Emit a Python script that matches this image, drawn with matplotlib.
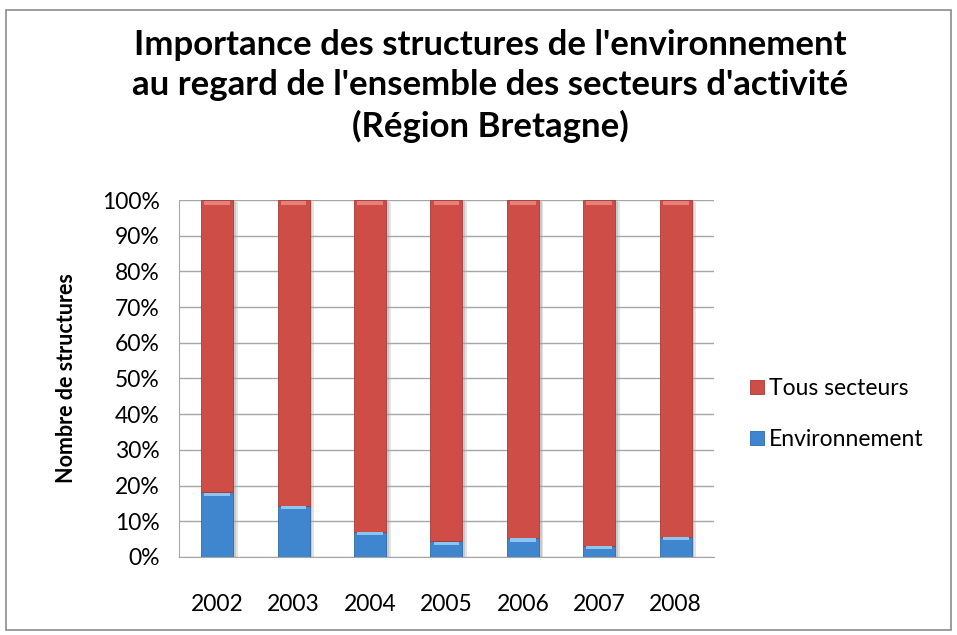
import numpy as np
import matplotlib.pyplot as plt
from matplotlib.patches import Rectangle

annees = ["2002", "2003", "2004", "2005", "2006", "2007", "2008"]
environnement = [18.1, 14.4, 7.1, 4.4, 5.3, 3.1, 5.6]
tous_secteurs = [100 - v for v in environnement]

plt.rcParams['font.family'] = ['Lato', 'DejaVu Sans']

fig = plt.figure(figsize=(9.57, 6.35), dpi=100)
fig.patches.append(Rectangle((0.006, 0.008), 0.988, 0.976, transform=fig.transFigure,
                             fill=False, edgecolor='#8c8c8c', linewidth=1.2))

ax = fig.add_axes([0.187, 0.123, 0.559, 0.562])
x = np.arange(len(annees))
w = 0.42

# ombre portée
ax.bar(x + 0.06, [100] * len(x), width=w, bottom=-0.6, color='#b0b0b0', alpha=0.35, zorder=2)
ax.bar(x + 0.035, [100] * len(x), width=w, bottom=-0.3, color='#9a9a9a', alpha=0.35, zorder=2)

b_env = ax.bar(x, environnement, width=w, color='#3f86cf', edgecolor='#2d6aa8',
               linewidth=0.6, label='Environnement', zorder=3)
b_tous = ax.bar(x, tous_secteurs, width=w, bottom=environnement, color='#cf4d47',
                edgecolor='#a83a35', linewidth=0.6, label='Tous secteurs', zorder=3)

# reflets en haut des segments
for xi, e in zip(x, environnement):
    ax.bar(xi, 0.9, width=w * 0.8, bottom=e - 1.0, color='#8cc4f2', zorder=4, linewidth=0)
    ax.bar(xi, 1.2, width=w * 0.8, bottom=98.6, color='#e8807a', zorder=4, linewidth=0)

ax.set_xlim(-0.5, len(annees) - 0.5)
ax.set_ylim(0, 100)
ax.set_yticks(np.arange(0, 101, 10))
ax.set_yticklabels([f"{v}%" for v in range(0, 101, 10)], fontsize=16.5)
ax.set_xticks(x)
ax.set_xticklabels(annees, fontsize=16.5)
ax.tick_params(axis='x', length=0, pad=27)
ax.tick_params(axis='y', length=0, pad=14)
ax.yaxis.grid(True, color='#a6a6a6', linewidth=1.0, zorder=0)
ax.set_axisbelow(True)
for s in ['top', 'right']:
    ax.spines[s].set_visible(False)
ax.spines['left'].set_color('#a6a6a6')
ax.spines['bottom'].set_color('#a6a6a6')
ax.set_ylabel("Nombre de structures", fontsize=15.5, fontweight='bold', labelpad=18)

fig.text(0.512, 0.955, "Importance des structures de l'environnement\n"
         "au regard de l'ensemble des secteurs d'activité\n(Région Bretagne)",
         ha='center', va='top', fontsize=25, fontweight='bold', linespacing=1.33)

leg = fig.legend([b_tous, b_env], ['Tous secteurs', 'Environnement'],
                 loc='center left', bbox_to_anchor=(0.762, 0.348), frameon=False,
                 fontsize=16.5, handlelength=0.6, handleheight=0.6, handletextpad=0.25,
                 labelspacing=1.3)

fig.savefig("out.png", dpi=100)
